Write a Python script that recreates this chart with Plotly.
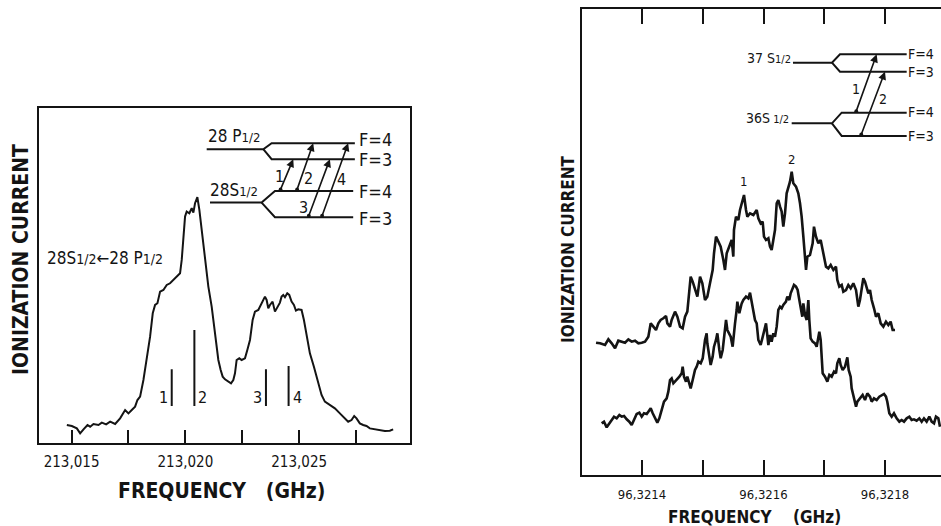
import numpy as np
import plotly.graph_objects as go

# ======================= DATA =======================
# Left panel: 28S1/2 -> 28P1/2 resonance, frequency offset (MHz) from 213.015 GHz
LEFT_F0_GHZ = 213.015
left_offset_mhz = [
    -0.208, 0.012, 0.231, 0.377, 0.524, 0.699, 0.816, 0.962, 1.182, 1.328,
    1.519, 1.694, 1.914, 2.133, 2.353, 2.499, 2.645, 2.791, 2.894, 3.011,
    3.157, 3.304, 3.450, 3.567, 3.669, 3.772, 3.889, 4.035, 4.181, 4.328,
    4.474, 4.620, 4.767, 4.840, 4.913, 4.986, 5.059, 5.176, 5.279, 5.352,
    5.425, 5.527, 5.615, 5.717, 5.864, 6.010, 6.156, 6.303, 6.449, 6.551,
    6.639, 6.741, 6.888, 7.005, 7.107, 7.180, 7.253, 7.370, 7.473, 7.619,
    7.722, 7.839, 7.956, 8.058, 8.205, 8.307, 8.424, 8.497, 8.570, 8.643,
    8.716, 8.833, 8.936, 9.038, 9.155, 9.228, 9.302, 9.375, 9.477, 9.565,
    9.667, 9.770, 9.857, 9.960, 10.106, 10.209, 10.326, 10.472, 10.648, 10.838,
    10.984, 11.130, 11.350, 11.569, 11.789, 12.008, 12.154, 12.301, 12.418, 12.520,
    12.666, 12.813, 12.959, 13.105, 13.325, 13.544, 13.764, 13.983, 14.130,
]
left_current = [
    5.3, 5.0, 4.3, 2.8, 4.0, 5.3, 4.8, 5.6, 5.3, 6.0,
    5.5, 6.3, 5.6, 7.3, 9.8, 8.8, 9.8, 10.8, 12.8, 13.8,
    18.8, 24.8, 31.8, 38.8, 41.3, 41.8, 45.3, 45.8, 47.3, 47.8,
    48.8, 49.8, 50.8, 54.8, 60.8, 67.8, 69.3, 68.8, 70.3, 69.0,
    71.8, 73.6, 69.8, 63.8, 54.8, 46.8, 40.8, 32.8, 24.8, 21.8,
    19.8, 19.0, 18.3, 17.8, 18.8, 20.8, 24.8, 25.3, 24.8, 25.3,
    27.8, 30.8, 36.8, 39.3, 39.8, 41.3, 42.8, 43.8, 42.8, 40.3,
    41.3, 42.3, 39.3, 40.8, 42.0, 43.8, 44.3, 43.6, 44.8, 44.3,
    42.3, 41.3, 39.6, 40.0, 39.8, 36.8, 31.8, 26.8, 22.8, 17.8,
    14.3, 12.3, 11.3, 10.3, 8.8, 7.3, 6.3, 6.8, 8.0, 7.3,
    5.8, 5.3, 5.0, 4.3, 4.0, 3.8, 3.5, 3.6, 4.0,
]
left_tick_vals_ghz = [213.015, 213.0175, 213.020, 213.0225, 213.025, 213.0275]
left_tick_text = ["213,015", "", "213,020", "", "213,025", ""]

# hyperfine component markers (1..4)
hfs_labels = ["1", "2", "3", "4"]
hfs_offset_mhz = [4.401, 5.396, 8.541, 9.536]
hfs_top = [22.0, 33.8, 22.0, 23.0]
hfs_bottom = 11.0

# Right panel: 36S1/2 -> 37S1/2, frequency offset (kHz) from 96.3214 GHz
RIGHT_F0_GHZ = 96.3214
upper_offset_khz = [
    -75.7, -69.1, -60.9, -55.4, -49.9, -44.4, -39.0, -33.5, -28.0, -22.5,
    -17.0, -11.5, -6.0, -0.5, 4.9, 10.4, 14.3, 18.7, 23.0, 26.9,
    30.7, 35.1, 39.5, 41.7, 46.1, 48.8, 54.3, 58.2, 62.6, 66.9,
    70.8, 74.6, 77.9, 80.1, 83.4, 87.2, 91.1, 95.5, 99.3, 103.7,
    107.5, 111.9, 116.3, 118.5, 121.8, 125.7, 129.5, 133.9, 136.6, 139.4,
    143.8, 147.6, 150.3, 151.4, 154.7, 158.6, 161.3, 164.1, 167.9, 171.2,
    173.4, 177.8, 183.3, 188.8, 191.5, 195.3, 198.6, 200.8, 204.1, 208.0,
    210.7, 213.4, 216.2, 218.9, 221.7, 224.4, 227.2, 229.9, 232.6, 235.4,
    238.1, 240.9, 243.6, 246.4, 249.1, 253.5, 257.3, 260.1, 262.8, 265.6,
    268.3, 270.0, 272.2, 276.5, 280.9, 283.1, 286.4, 290.3, 294.1, 297.4,
    299.6, 302.9, 306.7, 310.6, 315.0, 319.3, 321.5, 324.8, 328.7, 331.4,
    335.8, 339.6, 343.5, 347.9, 352.3, 356.1, 358.8, 361.6, 364.3, 367.1,
    369.8, 372.6, 375.3, 378.1, 381.9, 385.2, 389.0, 392.9, 397.3, 401.6,
    405.5, 409.3, 412.6, 416.5,
]
upper_current = [
    39.7, 39.5, 39.0, 40.7, 39.5, 38.0, 40.3, 40.0, 39.7, 40.7,
    40.0, 40.3, 39.5, 39.7, 40.0, 41.5, 45.5, 44.5, 43.5, 45.5,
    46.5, 47.0, 47.7, 45.5, 44.5, 46.5, 49.0, 47.5, 44.5, 44.0,
    47.5, 49.0, 55.5, 59.5, 58.0, 55.5, 53.5, 59.5, 57.5, 52.5,
    53.5, 57.5, 61.5, 66.5, 71.5, 70.0, 68.5, 64.5, 61.5, 66.5,
    68.5, 70.5, 65.5, 73.5, 77.5, 76.5, 79.5, 81.5, 84.0, 79.5,
    77.5, 78.5, 78.0, 79.5, 77.0, 75.5, 76.0, 71.5, 70.5, 71.0,
    68.5, 67.5, 70.0, 73.5, 81.5, 82.5, 80.5, 79.0, 74.5, 78.5,
    84.5, 86.5, 88.0, 91.0, 87.5, 86.5, 84.5, 81.5, 77.5, 71.5,
    64.5, 61.5, 65.5, 66.0, 69.5, 74.5, 71.5, 69.5, 70.5, 67.5,
    64.5, 62.5, 62.0, 63.0, 61.5, 62.5, 58.5, 56.5, 57.0, 55.0,
    55.5, 57.0, 56.0, 57.5, 55.5, 50.5, 52.5, 55.5, 59.0, 58.0,
    56.5, 54.5, 55.5, 52.5, 50.0, 47.5, 48.5, 45.5, 44.5, 46.0,
    45.0, 46.0, 43.5, 43.5,
]
lower_offset_khz = [
    -66.4, -62.6, -58.2, -53.8, -49.9, -46.1, -41.7, -37.3, -33.5, -29.6,
    -25.2, -20.9, -17.0, -13.2, -8.8, -4.4, -0.5, 3.3, 7.7, 10.4,
    14.3, 17.6, 21.4, 25.2, 28.5, 32.4, 36.2, 40.6, 43.3, 46.1,
    48.8, 51.6, 54.3, 58.2, 61.5, 65.3, 66.9, 69.1, 72.4, 74.6,
    77.9, 80.1, 83.4, 87.2, 90.0, 92.7, 96.6, 99.9, 103.7, 106.4,
    107.5, 110.8, 113.0, 116.3, 118.5, 121.8, 124.0, 127.3, 129.5, 132.8,
    135.0, 138.3, 140.5, 143.8, 146.0, 149.2, 151.4, 153.1, 155.8, 156.9,
    160.2, 164.1, 166.8, 171.2, 175.0, 177.8, 180.5, 183.3, 186.0, 188.8,
    191.5,
    195.3, 198.6, 200.8, 204.1, 206.3, 208.0, 210.7, 213.4, 216.2, 218.9,
    221.7, 224.4, 227.2, 229.9, 232.6, 237.0, 239.2, 242.5, 244.7, 248.0,
    250.2, 253.5, 256.2, 259.0, 261.2, 263.9, 265.6, 268.3, 271.1, 273.8,
    275.4, 277.6, 280.9, 284.8, 287.5, 290.3, 291.9, 294.1, 295.7, 297.4,
    301.2, 305.1, 308.4, 312.2, 316.1, 319.3, 321.5, 324.8, 327.0, 330.3,
    334.2, 338.0, 340.2, 343.5, 345.1, 349.0, 352.3, 354.5, 358.8, 363.2,
    367.1, 370.9, 375.3, 378.1, 381.9, 386.3, 390.7, 394.5, 398.4, 401.6,
    403.8, 407.1, 411.0, 414.8, 419.2, 423.6, 427.4, 431.3, 435.7, 440.1,
    443.9, 447.7, 452.1, 456.5, 460.4, 464.2, 468.6, 473.0, 476.8, 480.7,
    483.9, 487.8, 490.5,
]
lower_current = [
    15.5, 16.0, 14.3, 15.5, 16.5, 17.5, 17.0, 18.0, 17.5, 17.7,
    16.7, 16.0, 15.0, 16.5, 18.3, 18.7, 17.5, 18.5, 18.3, 19.0,
    20.0, 18.5, 17.0, 15.7, 17.0, 19.5, 22.0, 23.0, 25.0, 28.5,
    29.0, 27.5, 28.0, 29.0, 29.5, 30.5, 32.5, 29.5, 28.0, 29.5,
    27.0, 26.0, 28.5, 31.5, 32.5, 34.0, 33.5, 35.0, 40.5, 42.5,
    39.5, 34.5, 33.0, 35.5, 38.5, 40.5, 42.5, 37.5, 35.0, 37.5,
    41.5, 46.5, 43.5, 42.5, 41.5, 38.5, 41.5, 45.5, 49.5, 52.0,
    48.5, 51.5, 52.5, 53.5, 53.0, 54.7, 52.0, 48.5, 46.5, 45.5,
    40.5,
    39.0, 41.0, 43.0, 45.5, 41.5, 39.0, 42.0, 40.0, 42.5, 41.5,
    44.5, 49.5, 50.5, 50.0, 51.0, 52.0, 53.5, 52.5, 54.5, 56.0,
    57.0, 56.5, 55.5, 52.5, 50.5, 47.5, 51.5, 48.0, 46.5, 52.5,
    46.5, 41.0, 40.0, 39.5, 38.5, 41.0, 43.0, 40.5, 36.5, 30.5,
    29.5, 28.0, 30.0, 29.5, 31.0, 30.5, 33.5, 35.0, 33.0, 31.5,
    32.5, 35.3, 31.5, 29.5, 26.0, 22.5, 20.5, 22.0, 23.0, 24.0,
    22.5, 24.5, 23.5, 22.0, 23.0, 22.5, 23.5, 24.0, 24.3, 23.5,
    22.0, 18.5, 17.5, 18.5, 17.0, 16.0, 16.5, 16.0, 17.0, 17.5,
    16.5, 16.7, 16.3, 17.0, 16.0, 17.0, 16.0, 17.5, 16.0, 15.5,
    17.5, 17.0, 14.5,
]
right_tick_vals_khz = [0, 100, 200, 300, 400]
right_tick_text = ["96,3214", "", "96,3216", "", "96,3218"]
peak_labels = ["1", "2"]
peak_offset_khz = [166.8, 246.4]
peak_height = [88.0, 94.5]

# ======================= FIGURE =======================
W, H = 941, 526
INK = "#141414"
FONT = "DejaVu Sans Condensed, Liberation Sans Narrow, DejaVu Sans, sans-serif"


def fl(mhz):
    return LEFT_F0_GHZ + np.asarray(mhz, dtype=float) / 1e3


def fr(khz):
    return RIGHT_F0_GHZ + np.asarray(khz, dtype=float) / 1e6


def dom_x(a, b):
    return [a / W, b / W]


def dom_y(top, bottom):
    return [1 - bottom / H, 1 - top / H]


fig = go.Figure()
fig.add_trace(go.Scatter(x=fl(left_offset_mhz), y=left_current, mode="lines",
                         line=dict(color=INK, width=2), xaxis="x", yaxis="y",
                         showlegend=False, hoverinfo="skip"))
fig.add_trace(go.Scatter(x=fr(upper_offset_khz), y=upper_current, mode="lines",
                         line=dict(color=INK, width=2.6), xaxis="x2", yaxis="y2",
                         showlegend=False, hoverinfo="skip"))
fig.add_trace(go.Scatter(x=fr(lower_offset_khz), y=lower_current, mode="lines",
                         line=dict(color=INK, width=2.6), xaxis="x2", yaxis="y2",
                         showlegend=False, hoverinfo="skip"))

shapes = []
annotations = []

# hyperfine stick markers (left)
for lab, off, top in zip(hfs_labels, hfs_offset_mhz, hfs_top):
    shapes.append(dict(type="line", xref="x", yref="y", x0=float(fl(off)), x1=float(fl(off)),
                       y0=hfs_bottom, y1=top, line=dict(color=INK, width=2)))
for lab, off, side in zip(hfs_labels, hfs_offset_mhz, ["left", "right", "left", "right"]):
    annotations.append(dict(xref="x", yref="y", x=float(fl(off)), y=hfs_bottom + 2.5,
                            text=lab, showarrow=False,
                            xanchor="right" if side == "left" else "left",
                            xshift=-2 if side == "left" else 2,
                            font=dict(family=FONT, size=16, color=INK)))


def path(points, conv):
    return "M" + " L".join(f"{float(conv(a))},{b}" for a, b in points)


# energy level diagram (left)
lev_left = [
    [(5.937, 88.0), (8.424, 88.0), (8.790, 89.8), (12.447, 89.8)],
    [(8.424, 88.0), (8.790, 85.0), (12.447, 85.0)],
    [(6.083, 72.0), (8.351, 72.0), (8.936, 75.5), (12.374, 75.5)],
    [(8.351, 72.0), (8.936, 67.6), (12.374, 67.6)],
]
for p in lev_left:
    shapes.append(dict(type="path", xref="x", yref="y", path=path(p, fl),
                       line=dict(color=INK, width=2)))

arrows_left = [(9.155, 75.5, 9.740, 85.0), (9.887, 75.5, 10.618, 89.8),
               (10.399, 67.6, 11.350, 85.0), (10.984, 67.6, 12.154, 89.8)]
for x0, y0, x1, y1 in arrows_left:
    annotations.append(dict(xref="x", yref="y", axref="x", ayref="y",
                            x=float(fl(x1)), y=y1, ax=float(fl(x0)), ay=y0, text="",
                            showarrow=True, arrowhead=2, arrowsize=1.0, arrowwidth=1.6,
                            arrowside="end+start", startarrowhead=6, startarrowsize=0.6,
                            arrowcolor=INK, standoff=0, startstandoff=0))
for t, xo, yv in [("1", 9.155, 79.8), ("2", 10.399, 79.3), ("3", 10.209, 70.6), ("4", 11.862, 78.8)]:
    annotations.append(dict(xref="x", yref="y", x=float(fl(xo)), y=yv, text=t, showarrow=False,
                            font=dict(family=FONT, size=16, color=INK)))
for t, yv in [("F=4", 90.8), ("F=3", 84.8), ("F=4", 75.3), ("F=3", 67.3)]:
    annotations.append(dict(xref="x", yref="y", x=float(fl(12.55)), y=yv, text=t, showarrow=False,
                            xanchor="left", yanchor="middle",
                            font=dict(family=FONT, size=18, color=INK)))
annotations.append(dict(xref="x", yref="y", x=float(fl(8.35)), y=88.3, text="28 P<span style='font-size:13px'>1/2</span>",
                        showarrow=False, xanchor="right", yanchor="bottom",
                        font=dict(family=FONT, size=17, color=INK)))
annotations.append(dict(xref="x", yref="y", x=float(fl(8.30)), y=72.3, text="28S<span style='font-size:13px'>1/2</span>",
                        showarrow=False, xanchor="right", yanchor="bottom",
                        font=dict(family=FONT, size=17, color=INK)))
annotations.append(dict(xref="x", yref="y", x=float(fl(1.475)), y=55.3,
                        text="28S<span style='font-size:14px'>1/2</span>←28 P<span style='font-size:14px'>1/2</span>",
                        showarrow=False, xanchor="center", yanchor="middle",
                        font=dict(family=FONT, size=17, color=INK)))

# energy level diagram (right)
lev_right = [
    [(248.5, 123.7), (312.7, 123.7), (325.9, 126.2), (435.7, 126.2)],
    [(312.7, 123.7), (325.9, 121.0), (435.7, 121.0)],
    [(246.4, 105.5), (312.7, 105.5), (328.7, 108.7), (435.7, 108.7)],
    [(312.7, 105.5), (328.7, 101.7), (435.7, 101.7)],
]
for p in lev_right:
    shapes.append(dict(type="path", xref="x2", yref="y2", path=path(p, fr),
                       line=dict(color=INK, width=2)))
arrows_right = [(351.8, 108.7, 386.3, 126.2), (360.0, 101.7, 400.0, 121.0)]
for x0, y0, x1, y1 in arrows_right:
    annotations.append(dict(xref="x2", yref="y2", axref="x2", ayref="y2",
                            x=float(fr(x1)), y=y1, ax=float(fr(x0)), ay=y0, text="",
                            showarrow=True, arrowhead=2, arrowsize=1.0, arrowwidth=1.6,
                            arrowside="end+start", startarrowhead=6, startarrowsize=0.6,
                            arrowcolor=INK, standoff=0, startstandoff=0))
for t, xo, yv in [("1", 352.9, 115.7), ("2", 396.2, 112.7)]:
    annotations.append(dict(xref="x2", yref="y2", x=float(fr(xo)), y=yv, text=t, showarrow=False,
                            font=dict(family=FONT, size=14, color=INK)))
for t, yv in [("F=4", 126.4), ("F=3", 121.0), ("F=4", 108.9), ("F=3", 101.7)]:
    annotations.append(dict(xref="x2", yref="y2", x=float(fr(436.5)), y=yv, text=t, showarrow=False,
                            xanchor="left", yanchor="middle", borderpad=0,
                            font=dict(family=FONT, size=14, color=INK)))
annotations.append(dict(xref="x2", yref="y2", x=float(fr(248.0)), y=125.0, text="37 S<span style='font-size:11px'>1/2</span>",
                        showarrow=False, xanchor="right", yanchor="middle",
                        font=dict(family=FONT, size=14, color=INK)))
annotations.append(dict(xref="x2", yref="y2", x=float(fr(246.0)), y=107.2, text="36S<span style='font-size:11px'> 1/2</span>",
                        showarrow=False, xanchor="right", yanchor="middle",
                        font=dict(family=FONT, size=14, color=INK)))
for t, xo, yv in zip(peak_labels, peak_offset_khz, peak_height):
    annotations.append(dict(xref="x2", yref="y2", x=float(fr(xo)), y=yv, text=t, showarrow=False,
                            font=dict(family=FONT, size=13, color=INK)))

# axis titles
annotations += [
    dict(xref="paper", yref="paper", x=21 / W, y=1 - 260 / H, text="IONIZATION CURRENT",
         textangle=-90, showarrow=False, xanchor="center", yanchor="middle",
         font=dict(family=FONT, size=21, color=INK, weight="bold")),
    dict(xref="paper", yref="paper", x=221 / W, y=1 - 491 / H,
         text="FREQUENCY\u00a0\u00a0\u00a0(GHz)", showarrow=False, xanchor="center", yanchor="middle",
         font=dict(family=FONT, size=21, color=INK, weight="bold")),
    dict(xref="paper", yref="paper", x=568 / W, y=1 - 250 / H, text="IONIZATION CURRENT",
         textangle=-90, showarrow=False, xanchor="center", yanchor="middle",
         font=dict(family=FONT, size=17, color=INK, weight="bold")),
    dict(xref="paper", yref="paper", x=754 / W, y=1 - 517 / H,
         text="FREQUENCY\u00a0\u00a0\u00a0\u00a0(GHz)", showarrow=False, xanchor="center", yanchor="middle",
         font=dict(family=FONT, size=17, color=INK, weight="bold")),
]

axis_common = dict(showgrid=False, zeroline=False, linecolor=INK, linewidth=2,
                   tickcolor=INK, tickwidth=2, showline=True)

fig.update_layout(
    width=W, height=H,
    margin=dict(l=0, r=0, t=0, b=0),
    paper_bgcolor="white", plot_bgcolor="white",
    showlegend=False,
    xaxis=dict(domain=dom_x(38.5, 410), range=[float(fl(-1.453)), float(fl(14.87))],
               anchor="y", mirror=True, ticks="inside", ticklen=13,
               tickmode="array", tickvals=left_tick_vals_ghz, ticktext=left_tick_text,
               tickfont=dict(family=FONT, size=15, color=INK), ticklabelstandoff=4,
               **axis_common),
    yaxis=dict(domain=dom_y(107.5, 442.7), range=[0, 100.5], anchor="x", mirror=True,
               ticks="", showticklabels=False, **axis_common),
    xaxis2=dict(domain=dom_x(581.7, 941), range=[float(fr(-99.3)), float(fr(492.2))],
                anchor="y2", mirror="ticks", ticks="inside", ticklen=15,
                tickmode="array", tickvals=[float(v) for v in fr(right_tick_vals_khz)],
                ticktext=right_tick_text,
                tickfont=dict(family=FONT, size=13, color=INK), ticklabelstandoff=6,
                **axis_common),
    yaxis2=dict(domain=dom_y(9.3, 475), range=[0, 139.7], anchor="x2", mirror=False,
                ticks="", showticklabels=False, **axis_common),
    shapes=shapes,
    annotations=annotations,
)

# remove the default 8px page margin so the figure sits at the window's top-left corner
fig.write_html("out.html",
               config={"displayModeBar": False, "staticPlot": True},
               post_script="document.body.style.margin='0';document.body.style.overflow='hidden';")
